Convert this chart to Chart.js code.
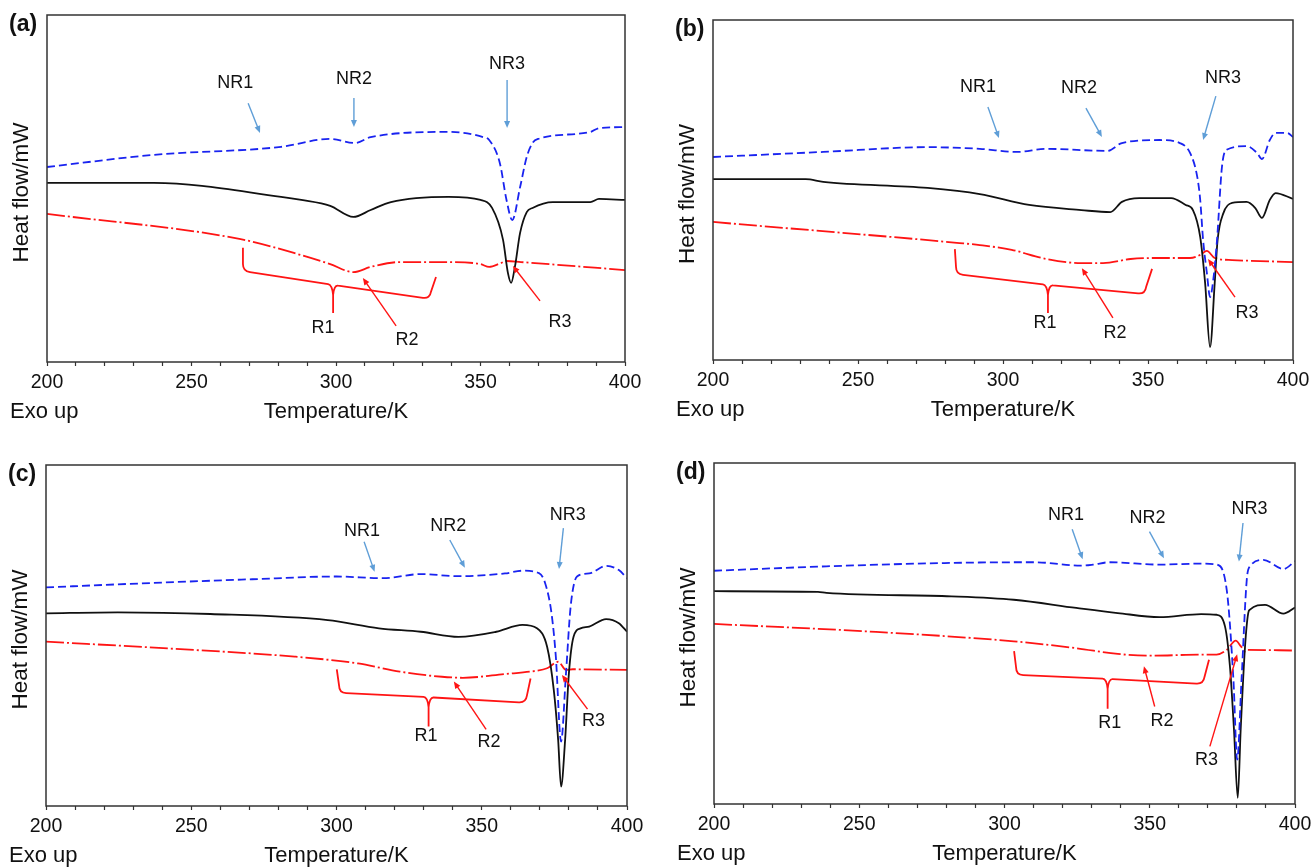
<!DOCTYPE html>
<html lang="en">
<head>
<meta charset="UTF-8">
<title>DSC curves</title>
<script src="https://cdn.jsdelivr.net/npm/chart.js"></script>
<style>
  body { margin: 0; background: #fff; }
  .wrap { position: relative; width: 1311px; height: 868px; overflow: hidden; }
  .wrap canvas { position: absolute; }
</style>
</head>
<body>
<div class="wrap">
  <canvas id="chartA" width="655" height="434" style="left:0;top:0"></canvas>
  <canvas id="chartB" width="680" height="434" style="left:656px;top:0"></canvas>
  <canvas id="chartC" width="655" height="434" style="left:0;top:434px"></canvas>
  <canvas id="chartD" width="680" height="434" style="left:656px;top:434px"></canvas>
</div>

<script>
// ---- panel (a) ----
const aNR_T = [200, 237, 281, 298, 306.6, 312, 339, 351, 353, 356.7, 359, 361, 363.7, 366, 368, 370, 388, 391, 400];
const aNR_Y = [56.2, 59.7, 62.0, 64.3, 63.1, 64.8, 66.3, 64.8, 64.0, 57.3, 46.7, 40.9, 50.4, 59.1, 63.1, 64.3, 66.3, 67.4, 67.7];
const aMix_T = [200, 237, 281, 288, 298, 306, 312, 319, 339, 350, 354, 357.8, 359.5, 360.6, 361.9, 363.7, 366, 368, 375, 388, 391, 400];
const aMix_Y = [51.6, 51.6, 47.6, 46.7, 45.0, 41.8, 43.8, 46.1, 47.6, 46.7, 44.4, 35.2, 25.6, 22.8, 27.4, 37.2, 43.2, 44.4, 46.1, 46.1, 47.0, 46.7];
const aR_T = [200, 267, 288, 298, 306, 312, 322, 339, 350, 353, 357, 359, 364, 400];
const aR_Y = [42.7, 35.4, 30.8, 28.2, 25.9, 27.4, 28.8, 28.8, 28.2, 27.4, 28.5, 29.1, 28.8, 26.5];

// ---- panel (b) ----
const bNR_T = [200, 238, 274, 292, 305, 315, 336, 341, 354, 361, 364.5, 367, 368, 369, 370.3, 371.4, 372.5, 373.8, 375.5, 377, 384, 387.6, 389.3, 392, 394, 398, 400];
const bNR_Y = [59.7, 61.2, 62.6, 62.1, 61.2, 62.1, 61.5, 63.8, 64.7, 63.8, 60.9, 53.8, 47.1, 35.3, 25.6, 18.5, 23.5, 35.3, 56.8, 61.8, 62.9, 60.9, 59.1, 64.7, 66.8, 66.8, 65.6];
const bMix_T = [200, 232, 238, 274, 292, 309, 327, 337, 341, 347, 358, 363, 365.5, 368, 369.7, 371.4, 373, 374, 376, 379, 384, 387, 389.3, 392, 394, 400];
const bMix_Y = [53.2, 53.2, 52.4, 50.6, 48.8, 45.6, 44.1, 43.5, 46.5, 47.6, 47.6, 45.6, 44.1, 36.2, 22.6, 3.8, 22.6, 35.3, 43.2, 46.2, 46.5, 44.7, 41.8, 47.1, 49.1, 47.4];
const bR_T = [200, 285, 292, 303, 315, 327, 334.5, 344, 352, 364.5, 368, 370.3, 373, 379, 400];
const bR_Y = [40.6, 34.4, 33.8, 32.4, 29.7, 28.5, 28.5, 29.7, 30.0, 30.0, 30.9, 32.1, 30.0, 29.4, 28.8];

// ---- panel (c) ----
const cNR_T = [200, 227.5, 271, 300, 316, 329, 342, 358, 364, 369.7, 371.8, 374, 375.5, 377.3, 379, 380.6, 382.8, 387, 392.8, 397.2, 400];
const cNR_Y = [64.1, 65.1, 66.5, 67.3, 66.8, 68.0, 67.4, 68.2, 69.0, 68.3, 65.4, 56.6, 43.8, 18.9, 38.9, 58.5, 67.3, 68.2, 70.4, 69.2, 66.8];
const cMix_T = [200, 224.7, 256.6, 297, 314.6, 329, 342, 355, 364, 369, 372.5, 374.8, 376.3, 377.3, 378.7, 380, 381.6, 384, 387, 392.8, 397.2, 400];
const cMix_Y = [56.5, 56.8, 56.3, 54.5, 52.1, 51.1, 49.6, 51.1, 53.1, 52.1, 46.7, 34.0, 19.4, 5.7, 19.4, 38.9, 49.6, 52.1, 52.6, 54.8, 53.6, 51.1];
const cR_T = [200, 242, 285.6, 307.4, 321.8, 336.3, 343.5, 358, 368.3, 372.5, 376.3, 379, 381.3, 400];
const cR_Y = [48.2, 46.2, 43.8, 41.8, 39.4, 37.9, 37.6, 38.7, 39.6, 40.4, 42.3, 39.9, 40.1, 39.9];

// ---- panel (d) ----
const dNR_T = [200, 238.7, 281.7, 310.4, 326.2, 330.5, 336.2, 353.4, 367.7, 373, 376.5, 378.8, 380.1, 381.6, 383.4, 384.5, 389.1, 396, 400];
const dNR_Y = [68.4, 69.7, 70.7, 70.9, 69.9, 70.2, 70.9, 70.2, 70.5, 70.2, 62.8, 36.5, 13.0, 36.5, 65.8, 69.7, 71.6, 68.9, 71.2];
const dMix_T = [200, 235.8, 238.7, 281.7, 303.2, 324.7, 339, 353.4, 367.7, 373, 375.9, 377.6, 379, 380.3, 381.3, 382.8, 383.9, 384.5, 389.7, 396, 400];
const dMix_Y = [62.4, 62.2, 61.9, 60.9, 59.9, 57.5, 56.0, 54.8, 55.7, 55.5, 52.1, 40.4, 21.8, 1.8, 21.8, 46.2, 56.0, 57.0, 58.4, 55.8, 57.6];
const dR_T = [200, 253, 303.2, 324.7, 339, 350.5, 367.7, 373, 376.5, 379.6, 381.4, 382.8, 383.4, 400];
const dR_Y = [52.8, 50.6, 47.7, 45.7, 44.0, 43.5, 43.8, 43.8, 45.2, 47.9, 46.2, 44.8, 45.2, 45.0];

// labels / arrows / braces (temperature, heat-flow units)
const aLabels = [['NR1', 265.1, 80.4], ['NR2', 306.2, 81.6], ['NR3', 359.2, 85.9], ['R1', 295.5, 9.8], ['R2', 324.6, 6.3], ['R3', 377.5, 11.5]];
const aBlueArrows = [[269.6, 74.6, 273.7, 66.0], [306.2, 76.1, 306.2, 67.7], [359.2, 81.3, 359.2, 67.4]];
const aRedArrows = [[320.8, 10.4, 309.3, 24.2], [370.6, 17.6, 361.2, 27.7]];
const aBrace = [[267.8, 32.9], [267.8, 26.2], [299.0, 22.2], [299.0, 14.1], [332.5, 18.2], [334.6, 24.5]];

const bLabels = [['NR1', 291.4, 80.3], ['NR2', 326.2, 80.0], ['NR3', 375.9, 82.9], ['R1', 314.5, 10.9], ['R2', 338.6, 7.9], ['R3', 384.1, 13.8]];
const bBlueArrows = [[294.8, 74.4, 298.6, 65.3], [328.6, 74.1, 334.1, 65.6], [373.4, 77.6, 369.0, 64.7]];
const bRedArrows = [[337.9, 12.4, 327.2, 27.0], [380.0, 18.5, 370.7, 29.7]];
const bBrace = [[283.4, 32.6], [283.8, 25.3], [315.5, 22.1], [315.5, 13.8], [349.0, 19.4], [351.4, 26.8]];

const cLabels = [['NR1', 308.8, 80.6], ['NR2', 338.5, 82.1], ['NR3', 379.6, 85.3], ['R1', 330.8, 20.5], ['R2', 352.5, 18.9], ['R3', 388.5, 24.9]];
const cBlueArrows = [[309.5, 77.5, 313.1, 68.7], [339.0, 78.0, 344.2, 69.9], [378.1, 81.5, 376.6, 69.5]];
const cRedArrows = [[351.5, 22.5, 340.4, 36.5], [386.4, 28.4, 377.6, 38.4]];
const cBrace = [[300.1, 40.1], [300.9, 33.2], [331.7, 31.9], [331.7, 23.3], [365.2, 30.3], [366.8, 37.4]];

const dLabels = [['NR1', 321.2, 84.8], ['NR2', 349.2, 83.9], ['NR3', 384.3, 86.5], ['R1', 336.2, 23.8], ['R2', 354.2, 24.2], ['R3', 369.5, 13.0]];
const dBlueArrows = [[323.3, 80.6, 326.9, 71.8], [349.9, 79.9, 354.9, 72.1], [382.1, 82.4, 380.7, 71.1]];
const dRedArrows = [[351.7, 28.6, 348.0, 40.4], [370.7, 16.9, 380.1, 43.9]];
const dBrace = [[303.3, 44.8], [304.0, 37.9], [335.5, 36.7], [335.5, 27.9], [368.5, 35.2], [370.4, 42.3]];

const FONT = "'Liberation Sans', Arial, Helvetica, sans-serif";
const BLUE = 'rgb(25, 35, 240)';
const RED = 'rgb(255, 20, 20)';
const LIGHTBLUE = 'rgb(95, 158, 215)';

Chart.defaults.font.family = FONT;
Chart.defaults.color = '#111';

function drawArrow(ctx, x1, y1, x2, y2, color) {
  const a = Math.atan2(y2 - y1, x2 - x1);
  const hl = 7, hw = 3;
  const c = Math.cos(a), s = Math.sin(a);
  ctx.strokeStyle = color;
  ctx.fillStyle = color;
  ctx.lineWidth = 1.4;
  ctx.beginPath();
  ctx.moveTo(x1, y1);
  ctx.lineTo(x2 - hl * 0.7 * c, y2 - hl * 0.7 * s);
  ctx.stroke();
  ctx.beginPath();
  ctx.moveTo(x2, y2);
  ctx.lineTo(x2 - hl * c + hw * s, y2 - hl * s - hw * c);
  ctx.lineTo(x2 - hl * c - hw * s, y2 - hl * s + hw * c);
  ctx.closePath();
  ctx.fill();
}

// frame, brace, arrows and all free texts
const annotPlugin = {
  id: 'annot',
  afterDraw(chart, args, o) {
    const { ctx, chartArea: ca, scales: { x, y } } = chart;
    const P = (t, v) => [x.getPixelForValue(t), y.getPixelForValue(v)];
    ctx.save();
    ctx.setLineDash([]);

    // frame
    ctx.strokeStyle = '#333';
    ctx.lineWidth = 1.5;
    ctx.strokeRect(ca.left, ca.top, ca.right - ca.left, ca.bottom - ca.top);

    // brace
    const [h1, c1, cu, st, c2, h2] = o.brace.map(p => P(p[0], p[1]));
    const s1 = (cu[1] - c1[1]) / (cu[0] - c1[0]);
    const s2 = (c2[1] - cu[1]) / (c2[0] - cu[0]);
    ctx.strokeStyle = RED;
    ctx.lineWidth = 1.8;
    ctx.beginPath();
    ctx.moveTo(h1[0], h1[1]);
    ctx.lineTo(c1[0], c1[1] - 7);
    ctx.quadraticCurveTo(c1[0], c1[1], c1[0] + 7, c1[1] + 7 * s1);
    ctx.lineTo(cu[0] - 5, cu[1] - 5 * s1);
    ctx.quadraticCurveTo(cu[0] - 1, cu[1], cu[0], cu[1] + 10);
    ctx.lineTo(st[0], st[1]);
    ctx.moveTo(cu[0], cu[1] + 10);
    ctx.quadraticCurveTo(cu[0] + 1, cu[1], cu[0] + 5, cu[1] + 5 * s2);
    ctx.lineTo(c2[0] - 7, c2[1] - 7 * s2);
    ctx.quadraticCurveTo(c2[0], c2[1], c2[0] + 1, c2[1] - 7);
    ctx.lineTo(h2[0], h2[1]);
    ctx.stroke();

    // arrows
    o.blueArrows.forEach(a => {
      const p = P(a[0], a[1]), q = P(a[2], a[3]);
      drawArrow(ctx, p[0], p[1], q[0], q[1], LIGHTBLUE);
    });
    o.redArrows.forEach(a => {
      const p = P(a[0], a[1]), q = P(a[2], a[3]);
      drawArrow(ctx, p[0], p[1], q[0], q[1], RED);
    });

    // labels
    ctx.fillStyle = '#111';
    ctx.font = '18px ' + FONT;
    ctx.textAlign = 'center';
    ctx.textBaseline = 'middle';
    o.labels.forEach(l => {
      const p = P(l[1], l[2]);
      ctx.fillText(l[0], p[0], p[1]);
    });

    // axis texts
    ctx.font = '22px ' + FONT;
    ctx.fillText('Temperature/K', (ca.left + ca.right) / 2, ca.bottom + 50);
    ctx.textAlign = 'left';
    ctx.fillText('Exo up', ca.left - 37, ca.bottom + 50);
    ctx.font = 'bold 23px ' + FONT;
    ctx.fillText(o.letter, ca.left - 38, ca.top + 10);
    ctx.save();
    ctx.translate(ca.left - 25, (ca.top + ca.bottom) / 2 + 4);
    ctx.rotate(-Math.PI / 2);
    ctx.textAlign = 'center';
    ctx.font = '22.5px ' + FONT;
    ctx.fillText('Heat flow/mW', 0, 0);
    ctx.restore();

    ctx.restore();
  }
};

function series(T, Y) {
  return T.map((t, i) => ({ x: t, y: Y[i] }));
}

function makePanel(id, letter, nr, mix, r, ann, box) {
  new Chart(document.getElementById(id), {
    type: 'line',
    data: {
      datasets: [
        { data: nr, borderColor: BLUE, borderWidth: 1.8, borderDash: [8, 4] },
        { data: mix, borderColor: '#111', borderWidth: 1.8 },
        { data: r, borderColor: RED, borderWidth: 1.8, borderDash: [18, 3, 2, 3] }
      ]
    },
    options: {
      responsive: false,
      animation: false,
      parsing: false,
      elements: {
        point: { radius: 0 },
        line: { cubicInterpolationMode: 'monotone', fill: false }
      },
      layout: { padding: { left: 0, right: box.padR, top: box.padT, bottom: 0 } },
      scales: {
        x: {
          type: 'linear',
          min: 200,
          max: 400,
          afterFit: s => { s.height = box.xH; },
          border: { display: false },
          grid: { drawOnChartArea: false, drawTicks: true, tickLength: 4, tickColor: '#333', tickWidth: 1.2 },
          ticks: {
            stepSize: 10,
            autoSkip: false,
            maxRotation: 0,
            padding: 5,
            color: '#111',
            font: { size: 19.5 },
            callback: v => (v % 50 === 0 ? String(v) : '')
          }
        },
        y: {
          min: 0,
          max: 100,
          afterFit: s => { s.width = box.yW; },
          border: { display: false },
          grid: { display: false },
          ticks: { display: false }
        }
      },
      plugins: {
        legend: { display: false },
        tooltip: { enabled: false },
        annot: Object.assign({ letter: letter }, ann)
      }
    },
    plugins: [annotPlugin]
  });
}

makePanel('chartA', '(a)', series(aNR_T, aNR_Y), series(aMix_T, aMix_Y), series(aR_T, aR_Y),
  { labels: aLabels, blueArrows: aBlueArrows, redArrows: aRedArrows, brace: aBrace },
  { yW: 47, padR: 30, padT: 15, xH: 72 });
makePanel('chartB', '(b)', series(bNR_T, bNR_Y), series(bMix_T, bMix_Y), series(bR_T, bR_Y),
  { labels: bLabels, blueArrows: bBlueArrows, redArrows: bRedArrows, brace: bBrace },
  { yW: 57, padR: 43, padT: 20, xH: 74 });
makePanel('chartC', '(c)', series(cNR_T, cNR_Y), series(cMix_T, cMix_Y), series(cR_T, cR_Y),
  { labels: cLabels, blueArrows: cBlueArrows, redArrows: cRedArrows, brace: cBrace },
  { yW: 46, padR: 28, padT: 31, xH: 62 });
makePanel('chartD', '(d)', series(dNR_T, dNR_Y), series(dMix_T, dMix_Y), series(dR_T, dR_Y),
  { labels: dLabels, blueArrows: dBlueArrows, redArrows: dRedArrows, brace: dBrace },
  { yW: 58, padR: 41, padT: 29, xH: 64 });
</script>
</body>
</html>
